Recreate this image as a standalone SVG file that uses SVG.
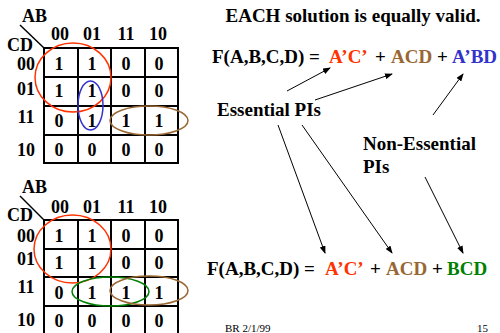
<svg xmlns="http://www.w3.org/2000/svg" width="500" height="333" viewBox="0 0 500 333">
<style>
text{font-family:"Liberation Serif","Times New Roman",serif;font-weight:bold;fill:#000}
.k{font-size:18px}
.c{text-anchor:middle}
.f{font-size:19px}
.g{stroke:#000;stroke-width:2;fill:none}
.a{stroke:#000;stroke-width:1;marker-end:url(#ah)}
.small{font-size:11px;font-weight:normal}
</style>
<defs>
<marker id="ah" markerWidth="8" markerHeight="6" refX="7" refY="3" orient="auto" markerUnits="userSpaceOnUse">
<path d="M0,0 L8,3 L0,6 Z" fill="#000"/>
</marker>
</defs>
<g id="kmap1">
<text class="k" x="22" y="22">AB</text>
<text class="k" x="7" y="51">CD</text>
<line x1="20" y1="25" x2="44" y2="48" stroke="#000" stroke-width="1.5"/>
<text class="k c" x="60" y="40">00</text><text class="k c" x="92" y="40">01</text><text class="k c" x="126" y="40">11</text><text class="k c" x="158" y="40">10</text>
<text class="k c" x="26" y="70">00</text><text class="k c" x="26" y="95">01</text><text class="k c" x="26" y="123">11</text><text class="k c" x="26" y="156">10</text>
<rect class="g" x="44" y="48" width="134" height="115"/>
<path class="g" d="M78,48V163M111,48V163M145,48V163M44,77H178M44,106H178M44,135H178"/>
<text class="k c" x="59" y="70">1</text><text class="k c" x="92" y="70">1</text><text class="k c" x="126" y="70">0</text><text class="k c" x="159" y="70">0</text>
<text class="k c" x="59" y="97">1</text><text class="k c" x="92" y="97">1</text><text class="k c" x="126" y="97">0</text><text class="k c" x="159" y="97">0</text>
<text class="k c" x="59" y="127">0</text><text class="k c" x="92" y="127">1</text><text class="k c" x="126" y="127">1</text><text class="k c" x="159" y="127">1</text>
<text class="k c" x="59" y="156">0</text><text class="k c" x="92" y="156">0</text><text class="k c" x="126" y="156">0</text><text class="k c" x="159" y="156">0</text>
<ellipse cx="73" cy="77.5" rx="38" ry="34.5" fill="none" stroke="#ff3300" stroke-width="1.5"/>
<ellipse cx="90.5" cy="105.5" rx="12.5" ry="24.5" fill="none" stroke="#3333cc" stroke-width="1.5"/>
<ellipse cx="149" cy="120.5" rx="39" ry="14.5" fill="none" stroke="#996633" stroke-width="1.5"/>
</g>
<g id="kmap2">
<text class="k" x="22" y="193">AB</text>
<text class="k" x="7" y="221">CD</text>
<line x1="20" y1="196" x2="44" y2="220" stroke="#000" stroke-width="1.5"/>
<text class="k c" x="60" y="213">00</text><text class="k c" x="92" y="213">01</text><text class="k c" x="126" y="213">11</text><text class="k c" x="158" y="213">10</text>
<text class="k c" x="26" y="242">00</text><text class="k c" x="26" y="265">01</text><text class="k c" x="26" y="293">11</text><text class="k c" x="26" y="326">10</text>
<rect class="g" x="44" y="220" width="134" height="116"/>
<path class="g" d="M78,220V336M111,220V336M145,220V336M44,249H178M44,277H178M44,306H178"/>
<text class="k c" x="59" y="242">1</text><text class="k c" x="92" y="242">1</text><text class="k c" x="126" y="242">0</text><text class="k c" x="159" y="242">0</text>
<text class="k c" x="59" y="269">1</text><text class="k c" x="92" y="269">1</text><text class="k c" x="126" y="269">0</text><text class="k c" x="159" y="269">0</text>
<text class="k c" x="59" y="299">0</text><text class="k c" x="92" y="299">1</text><text class="k c" x="126" y="299">1</text><text class="k c" x="159" y="299">1</text>
<text class="k c" x="59" y="327">0</text><text class="k c" x="92" y="327">0</text><text class="k c" x="126" y="327">0</text><text class="k c" x="159" y="327">0</text>
<ellipse cx="72.5" cy="249" rx="38.5" ry="34" fill="none" stroke="#ff3300" stroke-width="1.5"/>
<ellipse cx="110.5" cy="291.5" rx="38.5" ry="14.5" fill="none" stroke="#008000" stroke-width="1.5"/>
<ellipse cx="149" cy="290.5" rx="39" ry="14.5" fill="none" stroke="#996633" stroke-width="1.5"/>
</g>
<g id="title"><text class="f c" x="353" y="22">EACH solution is equally valid.</text></g>
<g id="eq1"><text class="f" x="212" y="63">F(A,B,C,D) =<tspan x="329" fill="#ff3300">A’C’</tspan><tspan x="375">+</tspan><tspan x="391" fill="#996633">ACD</tspan><tspan x="437">+</tspan><tspan x="452" fill="#3333cc">A’BD</tspan></text></g>
<g id="ess"><text class="f" x="217" y="116">Essential PIs</text></g>
<g id="noness"><text class="f" x="363" y="150">Non-Essential</text><text class="f" x="363" y="173">PIs</text></g>
<g id="eq2"><text class="f" x="207" y="275">F(A,B,C,D) =<tspan x="325" fill="#ff3300">A’C’</tspan><tspan x="370">+</tspan><tspan x="386" fill="#996633">ACD</tspan><tspan x="432">+</tspan><tspan x="447" fill="#008000">BCD</tspan></text></g>
<g id="footer"><text class="small" x="225" y="332">BR 2/1/99</text><text class="small" x="477" y="332">15</text></g>
<g id="connectors">
<line class="a" x1="287" y1="91" x2="330" y2="68"/>
<line class="a" x1="315" y1="100" x2="392" y2="74"/>
<line class="a" x1="433" y1="115" x2="463" y2="74"/>
<line class="a" x1="278" y1="125" x2="325" y2="253"/>
<line class="a" x1="302" y1="125" x2="392" y2="253"/>
<line class="a" x1="425" y1="177" x2="463" y2="253"/>
</g>
</svg>
